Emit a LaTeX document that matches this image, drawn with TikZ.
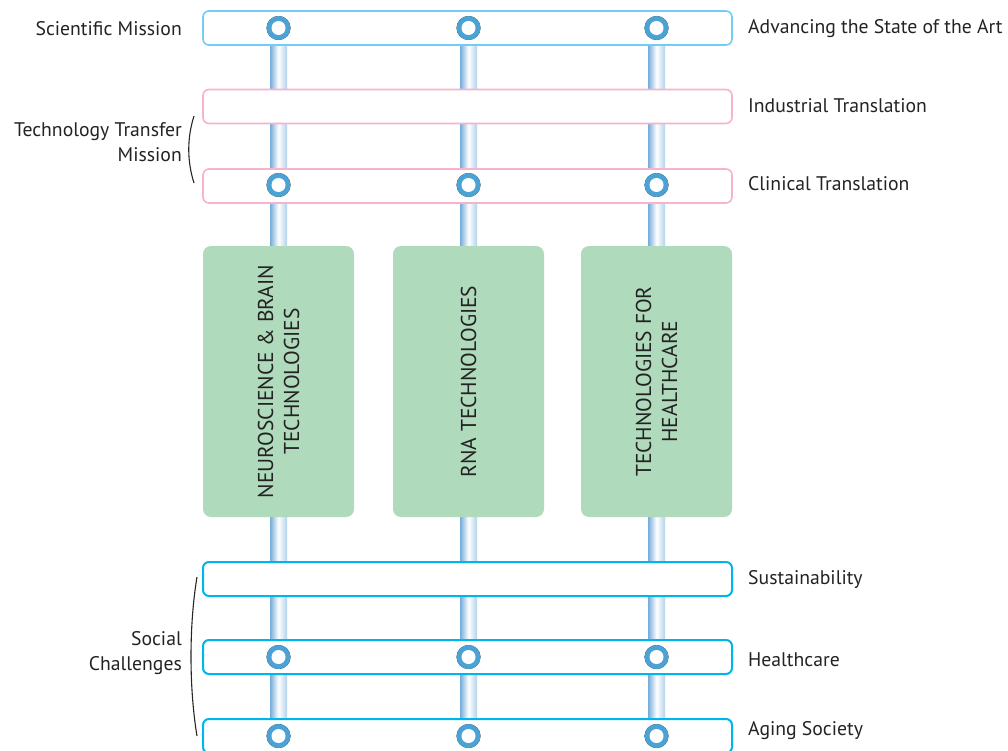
\documentclass[tikz,border=0pt]{standalone}
\usepackage{fontspec}
\setmainfont{PT Sans}
\usetikzlibrary{calc}
\definecolor{topblue}{RGB}{112,206,246}
\definecolor{pinkbar}{RGB}{246,178,206}
\definecolor{cyanbar}{RGB}{0,180,236}
\definecolor{greenbox}{RGB}{176,218,188}
\definecolor{pipeblue}{RGB}{118,172,218}
\definecolor{ringblue}{RGB}{75,162,212}
\definecolor{txt}{RGB}{35,35,35}
\pgfdeclareradialshading{glow}{\pgfpoint{0bp}{0bp}}{color(0bp)=(ringblue);color(30bp)=(ringblue);color(33bp)=(ringblue!55);color(39bp)=(ringblue!15);color(46bp)=(ringblue!4);color(50bp)=(white)}
\tikzset{
  bar/.style={rounded corners=6pt, fill=white, line width=1.6pt, minimum width=529pt, minimum height=34pt, inner sep=0pt},
  topbar/.style={bar, draw=topblue},
  pinkbox/.style={bar, draw=pinkbar},
  cyanbox/.style={bar, draw=cyanbar, line width=2pt},
  techbox/.style={rounded corners=8pt, fill=greenbox, minimum width=151pt, minimum height=271pt, inner sep=0pt},
  techtext/.style={rotate=90, align=center, text=txt, font=\fontsize{21.5}{26}\selectfont},
  leftlbl/.style={anchor=east, align=right, text=txt, inner sep=0pt, font=\fontsize{19.7}{25}\selectfont},
  rightlbl/.style={anchor=west, text=txt, inner sep=0pt, font=\fontsize{19.7}{25}\selectfont},
  brace/.style={line width=1.1pt, draw=black!85},
}
\newcommand{\pipe}[2]{\shade[left color=pipeblue, right color=pipeblue!55, middle color=white] ($(#1)+(-8.5,0)$) rectangle ($(#2)+(8.5,0)$);}
\newcommand{\knob}[1]{\fill[shading=glow] (#1) circle (12); \fill[white] (#1) circle (7);}
\begin{document}
\begin{tikzpicture}[x=1pt,y=-1pt]
\useasboundingbox (0,0) rectangle (1008,751);
% pipe end points
\foreach \n/\x in {1/278.5,2/468.5,3/656.5}{
  \coordinate (pt\n) at (\x,28);
  \coordinate (pb\n) at (\x,760);
}
\pipe{pt1}{pb1}
\pipe{pt2}{pb2}
\pipe{pt3}{pb3}
% bars
\node[topbar]  (sci)  at (467.5,28)  {};
\node[pinkbox] (ind)  at (467.5,106.5) {};
\node[pinkbox] (cli)  at (467.5,186) {};
\node[cyanbox] (sus)  at (467.5,579) {};
\node[cyanbox] (hea)  at (467.5,657) {};
\node[cyanbox] (age)  at (467.5,736) {};
% technology boxes
\node[techbox] (neuro) at (278.5,381.5) {};
\node[techbox] (rna)   at (468.5,381.5) {};
\node[techbox] (tfh)   at (656.5,381.5) {};
\node[techtext] (neurot) at (neuro.center) {NEUROSCIENCE \& BRAIN\\TECHNOLOGIES};
\node[techtext] (rnat)   at (rna.center) {RNA TECHNOLOGIES};
\node[techtext] (tfht)   at (tfh.center) {TECHNOLOGIES FOR\\HEALTHCARE};
% knobs
\foreach \y/\nm in {28/s,185/c,657/h,736/a}{
  \foreach \x/\k in {278.5/1,468.5/2,656.5/3}{
    \coordinate (k\nm\k) at (\x,\y);
    \knob{k\nm\k}
  }
}
% left labels
\node[leftlbl] (lsci) at (182,29) {Scientific Mission};
\node[leftlbl] (ltt)  at (182,142) {Technology Transfer\\Mission};
\node[leftlbl] (lsoc) at (182,653) {Social\\Challenges};
% braces
\coordinate (b1t) at (194,116);
\coordinate (b1b) at (194,183);
\draw[brace] (b1t) .. controls (187,138) and (187,161) .. (b1b);
\coordinate (b2t) at (197,577);
\coordinate (b2b) at (197,736);
\draw[brace] (b2t) .. controls (189,625) and (189,688) .. (b2b);
% right labels
\node[rightlbl] (rsci) at (748,29) {Advancing the State of the Art};
\node[rightlbl] (rind) at (748,106) {Industrial Translation};
\node[rightlbl] (rcli) at (748,184) {Clinical Translation};
\node[rightlbl] (rsus) at (748,579) {Sustainability};
\node[rightlbl] (rhea) at (748,660) {Healthcare};
\node[rightlbl] (rage) at (748,731) {Aging Society};
\end{tikzpicture}
\end{document}
